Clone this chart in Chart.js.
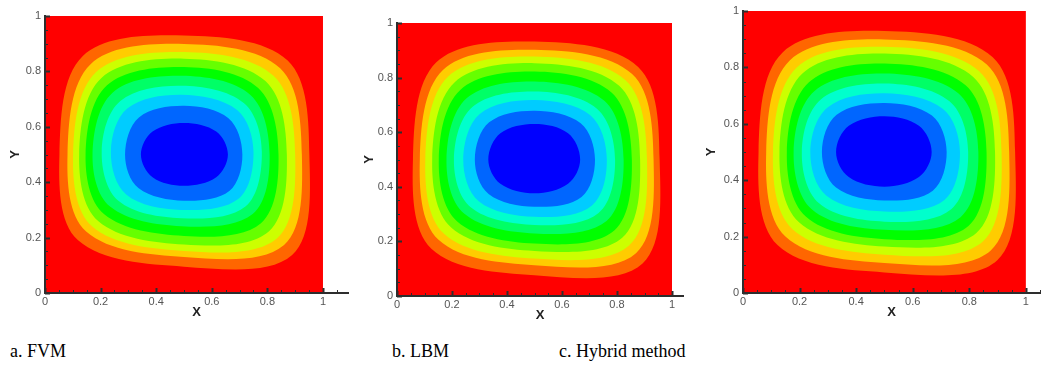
<!DOCTYPE html>
<html>
<head>
<meta charset="utf-8">
<script src="https://cdn.jsdelivr.net/npm/chart.js@4/dist/chart.umd.min.js"></script>
<style>
  html, body { margin: 0; padding: 0; background: #fff; }
  body { position: relative; width: 1044px; height: 375px; overflow: hidden; }
  canvas { position: absolute; top: 0; }
  .cap { position: absolute; top: 341px; line-height: 20px; font: 18px "Liberation Serif", "Times New Roman", serif; color: #000; white-space: nowrap; }
</style>
</head>
<body>
<canvas id="fvm" width="360" height="330" style="left:0px"></canvas>
<canvas id="lbm" width="341" height="330" style="left:352px"></canvas>
<canvas id="hybrid" width="346" height="330" style="left:698px"></canvas>
<script>
// ---- data ----------------------------------------------------------------
const tickValues = [0, 0.2, 0.4, 0.6, 0.8, 1];
const tickLabels = ['0', '0.2', '0.4', '0.6', '0.8', '1'];
const minorTickValues = [0.05, 0.1, 0.15, 0.25, 0.3, 0.35, 0.45, 0.5, 0.55, 0.65, 0.7, 0.75, 0.85, 0.9, 0.95, 1.05];
const panelCaptions = ['a. FVM', 'b. LBM', 'c. Hybrid method'];

// cavity walls (outermost level)
const cavityOutline = [[0, 1], [1, 1], [1, 0], [0, 0]];

// contour level colours, outermost (hot) to innermost (cold)
const levelColors = ['#ff0000', '#ff6600', '#ffcc00', '#ccff00', '#66ff00', '#00ff00',
                     '#00ff66', '#00ffcc', '#00ccff', '#0066ff', '#0000ff'];

// iso-lines, outer to inner; points: top, top-right, right, bottom-right, bottom, bottom-left, left, top-left
const fvmContours = [
  [[.50,.930],[.873,.839],[.951,.50],[.889,.137],[.50,.095],[.118,.191],[.052,.50],[.136,.856]],
  [[.50,.899],[.846,.811],[.924,.50],[.860,.173],[.50,.130],[.148,.222],[.081,.50],[.164,.826]],
  [[.50,.870],[.822,.784],[.900,.50],[.835,.198],[.50,.152],[.169,.241],[.101,.50],[.184,.798]],
  [[.50,.846],[.794,.764],[.870,.50],[.805,.222],[.50,.175],[.191,.260],[.123,.50],[.203,.776]],
  [[.50,.816],[.767,.740],[.840,.50],[.777,.252],[.50,.206],[.212,.285],[.146,.50],[.223,.750]],
  [[.49,.784],[.739,.715],[.808,.50],[.747,.285],[.49,.241],[.234,.312],[.171,.50],[.243,.723]],
  [[.49,.748],[.715,.686],[.780,.51],[.721,.312],[.49,.270],[.264,.333],[.204,.51],[.271,.693]],
  [[.49,.716],[.691,.661],[.750,.51],[.696,.340],[.49,.300],[.292,.356],[.237,.51],[.296,.666]],
  [[.50,.676],[.660,.631],[.710,.50],[.663,.368],[.50,.333],[.336,.379],[.288,.50],[.338,.634]],
  [[.50,.614],[.616,.583],[.658,.50],[.616,.418],[.50,.387],[.387,.418],[.345,.50],[.387,.583]]
];
const lbmContours = [
  [[.50,.932],[.877,.839],[.955,.50],[.893,.119],[.50,.076],[.125,.173],[.058,.50],[.143,.856]],
  [[.50,.902],[.855,.813],[.933,.50],[.869,.157],[.50,.113],[.151,.206],[.083,.50],[.167,.828]],
  [[.50,.877],[.831,.790],[.909,.50],[.844,.185],[.50,.137],[.171,.228],[.103,.50],[.186,.804]],
  [[.50,.853],[.808,.770],[.884,.50],[.819,.213],[.50,.165],[.197,.251],[.128,.50],[.209,.782]],
  [[.50,.822],[.780,.745],[.854,.50],[.790,.240],[.50,.192],[.219,.273],[.152,.50],[.230,.755]],
  [[.50,.786],[.754,.715],[.824,.50],[.762,.275],[.50,.229],[.244,.302],[.180,.50],[.253,.724]],
  [[.50,.749],[.727,.686],[.793,.50],[.733,.304],[.50,.260],[.268,.325],[.207,.50],[.275,.693]],
  [[.50,.718],[.703,.662],[.763,.50],[.708,.331],[.50,.290],[.297,.347],[.241,.50],[.301,.667]],
  [[.50,.679],[.668,.633],[.720,.50],[.671,.363],[.50,.327],[.333,.374],[.283,.50],[.335,.636]],
  [[.50,.630],[.622,.596],[.666,.50],[.622,.411],[.50,.376],[.376,.411],[.332,.50],[.376,.596]]
];
const hybridContours = [
  [[.50,.929],[.883,.836],[.962,.50],[.899,.116],[.50,.073],[.122,.170],[.055,.50],[.140,.853]],
  [[.50,.899],[.862,.810],[.941,.50],[.876,.151],[.50,.106],[.150,.200],[.082,.50],[.166,.825]],
  [[.50,.873],[.835,.786],[.914,.50],[.848,.183],[.50,.136],[.175,.226],[.106,.50],[.190,.800]],
  [[.50,.849],[.814,.766],[.891,.50],[.825,.213],[.50,.165],[.198,.251],[.129,.50],[.210,.778]],
  [[.50,.814],[.787,.737],[.861,.50],[.797,.238],[.50,.191],[.222,.271],[.155,.50],[.233,.747]],
  [[.50,.778],[.761,.708],[.832,.50],[.769,.269],[.50,.224],[.244,.296],[.179,.50],[.253,.716]],
  [[.50,.743],[.730,.680],[.796,.50],[.736,.297],[.50,.253],[.269,.318],[.208,.50],[.276,.687]],
  [[.50,.708],[.706,.653],[.767,.50],[.711,.329],[.50,.289],[.295,.345],[.238,.50],[.299,.658]],
  [[.50,.674],[.668,.629],[.720,.50],[.671,.363],[.50,.328],[.329,.374],[.279,.50],[.331,.632]],
  [[.50,.627],[.622,.593],[.667,.50],[.622,.411],[.50,.377],[.374,.411],[.329,.50],[.374,.593]]
];

// ---- layout of the three panels ----------------------------------------
const panels = [
  { canvas: 'fvm',    contours: fvmContours,    xMax: 1.09, padTop: 16, padRight: 12, xAxisH: 37, xTitlePad: 10, yTitlePad: 8,  capLeft: 10 },
  { canvas: 'lbm',    contours: lbmContours,    xMax: 1.04, padTop: 23, padRight: 10, xAxisH: 34, xTitlePad: 7,  yTitlePad: 10, capLeft: 392 },
  { canvas: 'hybrid', contours: hybridContours, xMax: 1.05, padTop: 11, padRight: 4,  xAxisH: 37, xTitlePad: 10, yTitlePad: 6,  capLeft: 559 }
];

const AXIS_COLOR = '#2e2e2e';
const TICK_FONT = { family: '"Liberation Sans", Arial, sans-serif', size: 11 };
const TITLE_FONT = { family: '"Liberation Sans", Arial, sans-serif', size: 13, weight: 'bold' };

// closes each iso-line into a smooth loop (same mechanism the radar chart uses)
const closedLoops = {
  id: 'closedLoops',
  afterDatasetUpdate(chart, args) {
    const line = args.meta.dataset;
    if (line) { line._loop = true; line._fullLoop = true; }
  }
};

// Tecplot-style tick marks pointing into the plot
const inwardTicks = {
  id: 'inwardTicks',
  afterDatasetsDraw(chart) {
    const { ctx, chartArea: a, scales: { x, y } } = chart;
    ctx.save();
    ctx.strokeStyle = AXIS_COLOR;
    const draw = (values, len, width) => {
      ctx.lineWidth = width;
      ctx.beginPath();
      values.filter(v => v <= x.max + 1e-9).forEach(v => {
        const px = Math.round(x.getPixelForValue(v)) + 0.5;
        ctx.moveTo(px, a.bottom); ctx.lineTo(px, a.bottom - len);
      });
      values.filter(v => v <= y.max + 1e-9).forEach(v => {
        const py = Math.round(y.getPixelForValue(v)) + 0.5;
        ctx.moveTo(a.left, py); ctx.lineTo(a.left + len, py);
      });
      ctx.stroke();
    };
    draw(minorTickValues, 3, 1);
    draw(tickValues, 5, 2);
    ctx.restore();
  }
};

function buildDatasets(contours) {
  const toPoints = pts => pts.map(([x, y]) => ({ x, y }));
  const sets = [{
    data: toPoints(cavityOutline),
    backgroundColor: levelColors[0],
    order: contours.length + 1,
    tension: 0
  }];
  contours.forEach((pts, k) => sets.push({
    data: toPoints(pts),
    backgroundColor: levelColors[k + 1],
    order: contours.length - k,
    tension: 0.35
  }));
  return sets.map(s => Object.assign({
    showLine: true, fill: 'shape', borderWidth: 0, pointRadius: 0, pointHoverRadius: 0
  }, s));
}

function axisOptions(kind, p) {
  const isX = kind === 'x';
  return {
    type: 'linear',
    min: 0,
    max: isX ? p.xMax : 1,
    afterFit(s) { if (isX) s.height = p.xAxisH; else s.width = 45; },
    afterBuildTicks(s) { s.ticks = tickValues.map(v => ({ value: v })); },
    grid: { display: false, drawTicks: false },
    border: { display: true, color: AXIS_COLOR, width: 2, z: 1 },
    ticks: {
      padding: isX ? 2 : 4,
      color: '#555',
      font: TICK_FONT,
      autoSkip: false,
      maxRotation: 0,
      callback: (v, i) => tickLabels[i]
    },
    title: {
      display: true,
      text: isX ? 'X' : 'Y',
      color: '#222',
      font: TITLE_FONT,
      padding: isX ? { top: 0, bottom: p.xTitlePad } : { top: p.yTitlePad, bottom: 0 }
    }
  };
}

panels.forEach((p, i) => {
  new Chart(document.getElementById(p.canvas), {
    type: 'scatter',
    data: { datasets: buildDatasets(p.contours) },
    options: {
      responsive: false,
      animation: false,
      devicePixelRatio: 1,
      events: [],
      layout: { padding: { top: p.padTop, right: p.padRight, left: 0, bottom: 0 } },
      plugins: { legend: { display: false }, tooltip: { enabled: false } },
      scales: { x: axisOptions('x', p), y: axisOptions('y', p) }
    },
    plugins: [closedLoops, inwardTicks]
  });

  const cap = document.createElement('div');
  cap.className = 'cap';
  cap.style.left = p.capLeft + 'px';
  cap.textContent = panelCaptions[i];
  document.body.appendChild(cap);
});
</script>
</body>
</html>
